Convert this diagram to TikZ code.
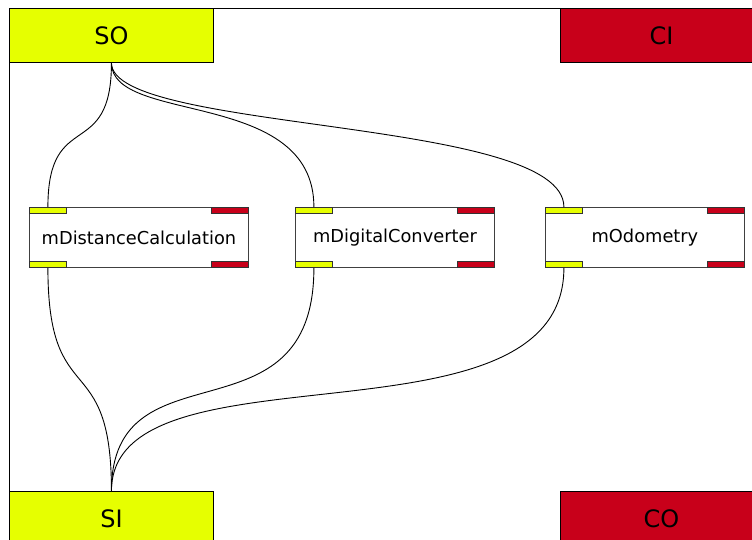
\documentclass[tikz,border=0pt]{standalone}
\usepackage{fontspec}
\setmainfont{DejaVu Sans}
\definecolor{portyellow}{RGB}{230,255,0}
\definecolor{portred}{RGB}{200,0,26}
\begin{document}
\begin{tikzpicture}[x=1pt,y=-1pt,
  frameline/.style={draw=black, line width=0.9pt},
  bigport/.style={draw=black, line width=0.9pt, inner sep=0pt,
    minimum height=54pt, font=\fontsize{24}{28}\selectfont},
  module/.style={draw=black!75, line width=0.9pt, fill=white, inner sep=0pt,
    minimum height=60pt, anchor=north west, font=\fontsize{17.8}{20}\selectfont},
  port/.style={draw=black!80, line width=0.8pt, inner sep=0pt,
    minimum width=37pt, minimum height=6pt},
  inport/.style={port, fill=portyellow},
  outport/.style={port, fill=portred},
  wire/.style={draw=black, line width=0.9pt}]
\useasboundingbox (0,0) rectangle (752,540);
\clip (0,0) rectangle (752,540);

% enclosing frame
\draw[frameline] (9,8) rectangle (770,560);

% boundary ports of the enclosing block
\node[bigport, fill=portyellow, minimum width=204pt, anchor=north west] (so) at (9,8) {SO};
\node[bigport, fill=portred, minimum width=202pt, anchor=north west] (ci) at (560,8) {CI};
\node[bigport, fill=portyellow, minimum width=204pt, anchor=north west] (si) at (9,491) {SI};
\node[bigport, fill=portred, minimum width=202pt, anchor=north west] (co) at (560,491) {CO};

% modules
\node[module, minimum width=219pt] (m1) at (29,207) {mDistanceCalculation};
\node[module, minimum width=199pt] (m2) at (295,207) {mDigitalConverter};
\node[module, minimum width=199pt] (m3) at (545,207) {mOdometry};

% module ports
\foreach \m in {m1,m2,m3}{
  \node[inport, anchor=north west] (\m a) at (\m.north west) {};
  \node[inport, anchor=south west] (\m b) at (\m.south west) {};
  \node[outport, anchor=north east] (\m c) at (\m.north east) {};
  \node[outport, anchor=south east] (\m d) at (\m.south east) {};
}

% wires from SO to the module inputs
\draw[wire] (so.south) .. controls +(0,100) and +(0,-100) .. (m1a.north);
\draw[wire] (so.south) .. controls +(0,62) and +(0,-119) .. (m2a.north);
\draw[wire] (so.south) .. controls +(0,70) and +(0,-90) .. (m3a.north);

% wires from the module inputs to SI
\draw[wire] (m1b.south) .. controls +(0,146) and +(0,-146) .. (si.north);
\draw[wire] (m2b.south) .. controls +(0,180) and +(0,-151) .. (si.north);
\draw[wire] (m3b.south) .. controls +(0,189) and +(0,-154) .. (si.north);
\end{tikzpicture}
\end{document}
